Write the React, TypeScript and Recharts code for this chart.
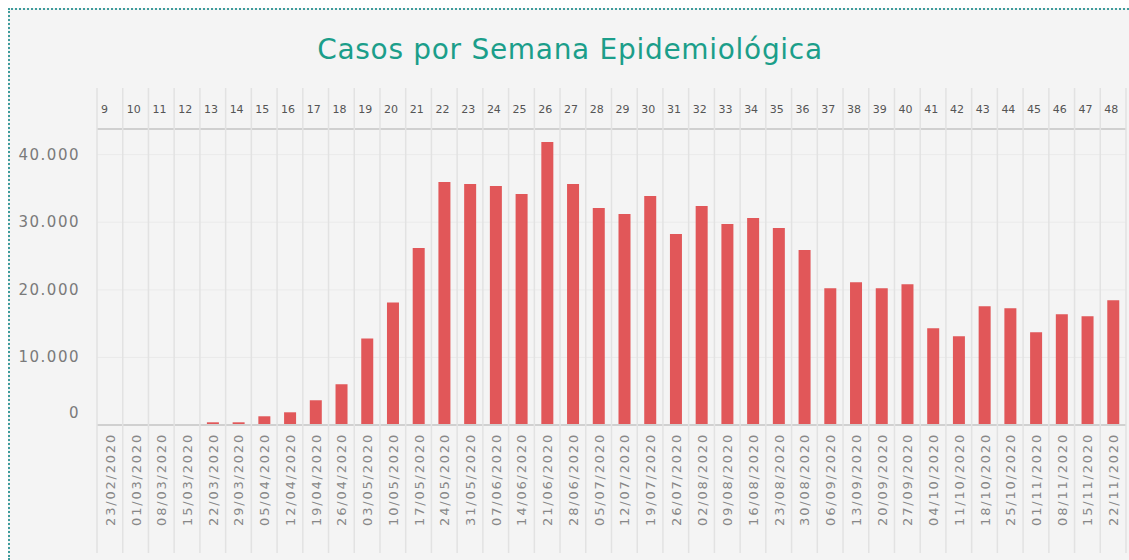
import { BarChart, Bar, XAxis, YAxis, CartesianGrid } from "recharts";

const weeks = [
  "9", "10", "11", "12", "13", "14", "15", "16", "17", "18",
  "19", "20", "21", "22", "23", "24", "25", "26", "27", "28",
  "29", "30", "31", "32", "33", "34", "35", "36", "37", "38",
  "39", "40", "41", "42", "43", "44", "45", "46", "47", "48",
];

const weekStarts = [
  "23/02/2020", "01/03/2020", "08/03/2020", "15/03/2020", "22/03/2020",
  "29/03/2020", "05/04/2020", "12/04/2020", "19/04/2020", "26/04/2020",
  "03/05/2020", "10/05/2020", "17/05/2020", "24/05/2020", "31/05/2020",
  "07/06/2020", "14/06/2020", "21/06/2020", "28/06/2020", "05/07/2020",
  "12/07/2020", "19/07/2020", "26/07/2020", "02/08/2020", "09/08/2020",
  "16/08/2020", "23/08/2020", "30/08/2020", "06/09/2020", "13/09/2020",
  "20/09/2020", "27/09/2020", "04/10/2020", "11/10/2020", "18/10/2020",
  "25/10/2020", "01/11/2020", "08/11/2020", "15/11/2020", "22/11/2020",
];

const cases = [
  0, 0, 0, 0, 400, 400, 1290, 1880, 3660, 6030,
  12790, 18120, 26180, 35960, 35660, 35360, 34180, 41880, 35660, 32100,
  31210, 33880, 28250, 32400, 29730, 30620, 29140, 25880, 20250, 21140,
  20250, 20840, 14330, 13140, 17590, 17290, 13730, 16400, 16100, 18470,
];

const yTicks = [0, 10000, 20000, 30000, 40000];

const data = weeks.map((week, i) => ({ week, date: weekStarts[i], cases: cases[i] }));

// layout (page coordinates, chart covers the whole window)
const W = 1129;
const H = 560;
const Y_AXIS_W = 97;
const RIGHT = 3;
const TOP = 88;
const TOP_AXIS_H = 41;
const BOTTOM_AXIS_H = 128;
const BOTTOM = 7;
const PLOT_TOP = TOP + TOP_AXIS_H;
const LINES_BOTTOM = H - BOTTOM;
const BAND = (W - Y_AXIS_W - RIGHT) / weeks.length;

const FONT = "'DejaVu Sans', Verdana, sans-serif";
const SEP = "#e2e2e2";
const FRAME = "2px dotted #3e9c9c";

const fmt = (v: number) => String(v).replace(/\B(?=(\d{3})+(?!\d))/g, ".");

function WeekTick(props: any) {
  const { x, payload } = props;
  const left = x - BAND / 2;
  return (
    <text x={left + 4} y={PLOT_TOP - 16} fill="#555" fontSize={11} fontFamily={FONT}>
      {payload.value}
    </text>
  );
}

function DateTick(props: any) {
  const { x, payload, index } = props;
  const left = x - BAND / 2;
  const isLast = index === weeks.length - 1;
  return (
    <g>
      <line x1={left} x2={left} y1={TOP} y2={LINES_BOTTOM} stroke={SEP} strokeWidth={1.5} />
      {isLast && (
        <line x1={left + BAND} x2={left + BAND} y1={TOP} y2={LINES_BOTTOM} stroke={SEP} strokeWidth={1.5} />
      )}
      <text
        transform={`translate(${x + 5}, ${PLOT_TOP + 304}) rotate(-90)`}
        textAnchor="end"
        fill="#888"
        fontSize={13}
        letterSpacing={1.8}
        fontFamily={FONT}
      >
        {payload.value}
      </text>
    </g>
  );
}

function ValueTick(props: any) {
  const { y, payload } = props;
  const shift = payload.value === 0 ? -12 : 0;
  return (
    <text
      x={80}
      y={y + shift}
      dy={5}
      textAnchor="end"
      fill="#7a7a7a"
      fontSize={15}
      letterSpacing={1.5}
      fontFamily={FONT}
    >
      {fmt(payload.value)}
    </text>
  );
}

export default function App() {
  return (
    <div
      style={{
        position: "fixed",
        left: 0,
        top: 0,
        width: W,
        height: H,
        overflow: "hidden",
        background: "#fff",
      }}
    >
      <div
        style={{
          position: "absolute",
          left: 8,
          top: 8,
          right: 0,
          bottom: 0,
          background: "#f4f4f4",
          borderTop: FRAME,
          borderLeft: FRAME,
        }}
      />
      <div
        style={{
          position: "absolute",
          left: 0,
          top: 36,
          width: W,
          paddingLeft: 11,
          boxSizing: "border-box",
          textAlign: "center",
          fontFamily: FONT,
          fontSize: 28,
          letterSpacing: 0.7,
          lineHeight: "28px",
          color: "#1b9e8a",
        }}
      >
        Casos por Semana Epidemiológica
      </div>
      <div style={{ position: "absolute", left: 0, top: 0 }}>
        <BarChart
          width={W}
          height={H}
          data={data}
          barSize={12}
          margin={{ top: TOP, right: RIGHT, bottom: BOTTOM, left: 0 }}
        >
          <CartesianGrid xAxisId="date" vertical={false} stroke="#eaeaea" />
          <XAxis
            xAxisId="week"
            dataKey="week"
            orientation="top"
            height={TOP_AXIS_H}
            interval={0}
            tickLine={false}
            axisLine={{ stroke: "#d0d0d0", strokeWidth: 2 }}
            tick={<WeekTick />}
          />
          <XAxis
            xAxisId="date"
            dataKey="date"
            height={BOTTOM_AXIS_H}
            interval={0}
            tickLine={false}
            axisLine={{ stroke: "#d0d0d0", strokeWidth: 2 }}
            tick={<DateTick />}
          />
          <YAxis
            width={Y_AXIS_W}
            domain={[0, 43800]}
            ticks={yTicks}
            axisLine={false}
            tickLine={false}
            tick={<ValueTick />}
          />
          <Bar xAxisId="date" dataKey="cases" fill="#e15759" isAnimationActive={false} />
        </BarChart>
      </div>
    </div>
  );
}
